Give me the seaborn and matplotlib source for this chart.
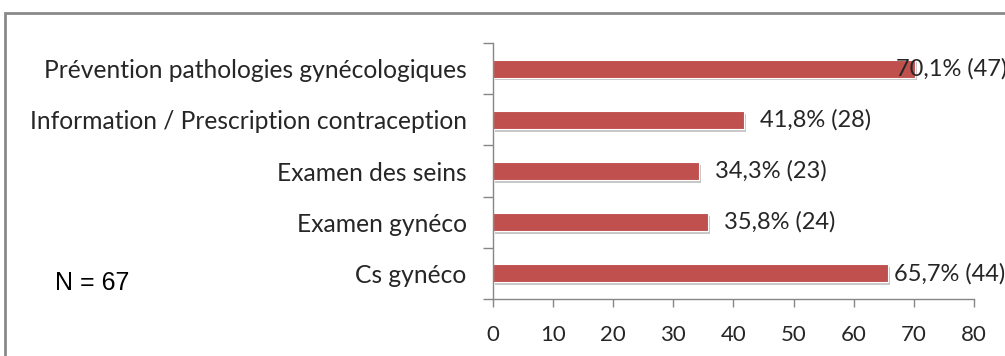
import matplotlib
matplotlib.use("Agg")
import matplotlib.pyplot as plt
import matplotlib.patheffects as pe
from matplotlib.patches import Rectangle
import seaborn as sns
import pandas as pd

# Motifs de consultation (N = 67)
categories = [
    "Prévention pathologies gynécologiques",
    "Information / Prescription contraception",
    "Examen des seins",
    "Examen gynéco",
    "Cs gynéco",
]
percentages = [70.1, 41.8, 34.3, 35.8, 65.7]
counts = [47, 28, 23, 24, 44]
x_ticks = [0, 10, 20, 30, 40, 50, 60, 70, 80]

# horizontal nudge of each value label from its bar end, in points
label_offsets = [-13.5, 11.5, 11.5, 11.5, 4.3]

sns.set_theme(style="white")
plt.rcParams["font.family"] = ["Lato", "DejaVu Sans"]

df = pd.DataFrame({"motif": categories, "pct": percentages})

fig = plt.figure(figsize=(10.05, 3.56), dpi=100)
ax = fig.add_axes([0.4905, 0.1601, 0.4787, 0.7191])

sns.barplot(data=df, y="motif", x="pct", orient="h", color="#C0504D",
            saturation=1, width=0.35, ax=ax, order=categories)

for bar in ax.patches:
    bar.set_edgecolor("white")
    bar.set_linewidth(0.8)
    bar.set_path_effects([
        pe.SimplePatchShadow(offset=(1.5, -2), shadow_rgbFace="#000000", alpha=0.22),
        pe.Normal(),
    ])

for i, (p, c) in enumerate(zip(percentages, counts)):
    txt = f"{p:.1f}".replace(".", ",") + f"% ({c})"
    ax.annotate(txt, xy=(p, i), xytext=(label_offsets[i], 0),
                textcoords="offset points", ha="left", va="center",
                fontsize=17, color="#262626", annotation_clip=False,
                clip_on=False)

ax.set_xlim(0, 80)
ax.set_ylim(4.5, -0.5)
ax.set_xticks(x_ticks)
ax.set_xticklabels([str(t) for t in x_ticks], fontsize=16, color="#262626")
ax.set_yticks(range(len(categories)))
ax.set_yticklabels(categories, fontsize=17.7, color="#262626")
ax.set_yticks([i - 0.5 for i in range(len(categories) + 1)], minor=True)
ax.tick_params(axis="y", which="major", length=0, pad=19)
ax.tick_params(axis="y", which="minor", length=7, width=1, color="#868686", direction="out", left=True)
ax.tick_params(axis="x", which="major", length=6, width=1, color="#868686", direction="out", bottom=True, pad=13)
ax.set_xlabel("")
ax.set_ylabel("")

for side in ("top", "right"):
    ax.spines[side].set_visible(False)
for side in ("left", "bottom"):
    ax.spines[side].set_color("#868686")
    ax.spines[side].set_linewidth(1)

fig.text(0.055, 0.205, "N = 67", fontsize=18, family="Liberation Sans",
         color="black", ha="left", va="center")

# outer frame around the chart area
fig.patches.append(Rectangle((5 / 1005, -0.2), 1.2, 1 - 13 / 356 + 0.2,
                             transform=fig.transFigure, fill=False,
                             edgecolor="#8a8a8a", linewidth=2))

fig.savefig("out.png", dpi=100)
